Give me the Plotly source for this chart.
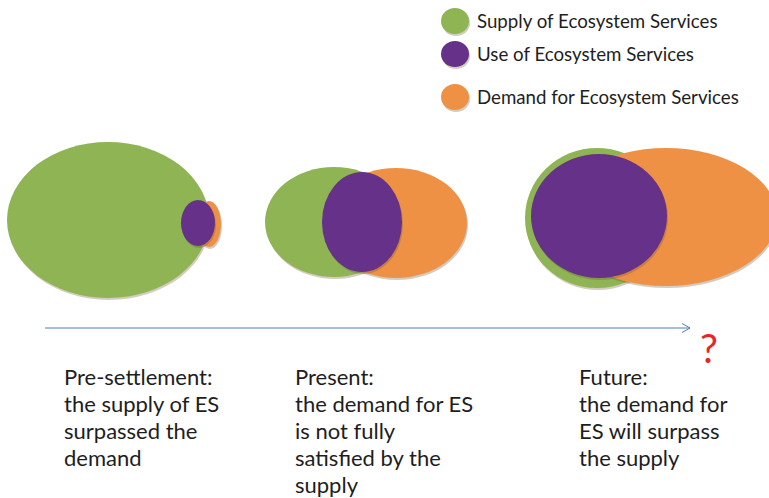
import plotly.graph_objects as go

# ---- data ----
legend_labels = ["Supply of Ecosystem Services", "Use of Ecosystem Services", "Demand for Ecosystem Services"]
series = ["supply", "use", "demand"]
colors = {"supply": "#8FB453", "use": "#663189", "demand": "#EF9145"}

# ellipse geometry per stage: (cx, cy, rx, ry)
supply_ell = [(108, 220, 101, 78), (334, 222, 69, 55), (597, 218, 72, 70)]
demand_ell = [(209, 224, 12, 23), (396, 223, 71, 55), (666, 217, 111, 69)]
use_ell = [(198, 223, 17, 23), (362, 222, 40, 50), (599, 216, 68, 62)]

stage_text = [
    ["Pre-settlement:", "the supply of ES", "surpassed the", "demand"],
    ["Present:", "the demand for ES", "is not fully", "satisfied by the", "supply"],
    ["Future:", "the demand for", "ES will surpass", "the supply"],
]
stage_text_x = [62, 293, 577]
text_top_y = 376
line_gap = 27

legend_y = [21, 54, 97]
legend_x = 455

FONT = "Lato, Liberation Sans, sans-serif"

fig = go.Figure()
shapes = []

def ellipse(cx, cy, rx, ry, color, shadow=True):
    out = []
    if shadow:
        out.append(dict(type="circle", xref="x", yref="y",
                        x0=cx - rx + 1, x1=cx + rx + 1, y0=cy - ry + 2, y1=cy + ry + 2,
                        fillcolor="rgba(110,85,50,0.3)", line=dict(width=0), layer="above"))
    out.append(dict(type="circle", xref="x", yref="y",
                    x0=cx - rx, x1=cx + rx, y0=cy - ry, y1=cy + ry,
                    fillcolor=color, line=dict(width=0), layer="above"))
    return out

for i in range(3):
    for name, ell in (("supply", supply_ell), ("demand", demand_ell), ("use", use_ell)):
        cx, cy, rx, ry = ell[i]
        shapes += ellipse(cx, cy, rx, ry, colors[name])

# legend markers
for i, s in enumerate(series):
    shapes += ellipse(legend_x, legend_y[i], 14, 13, colors[s])

annotations = []
for i, lab in enumerate(legend_labels):
    annotations.append(dict(x=475, y=legend_y[i], xref="x", yref="y", text=lab,
                            showarrow=False, xanchor="left", yanchor="middle",
                            font=dict(family=FONT, size=18.7, color="#1e1e1e")))

for j, lines in enumerate(stage_text):
    for k, ln in enumerate(lines):
        annotations.append(dict(x=stage_text_x[j], y=text_top_y + k * line_gap, xref="x", yref="y",
                                text=ln, showarrow=False, xanchor="left", yanchor="middle",
                                font=dict(family=FONT, size=22, color="#1e1e1e")))

annotations.append(dict(x=709, y=348, xref="x", yref="y", text="?", showarrow=False,
                        xanchor="center", yanchor="middle",
                        font=dict(family=FONT, size=40, color="#E8262A")))

# timeline arrow
arrow_col = "#4A7EC0"
fig.add_trace(go.Scatter(x=[45, 690], y=[328, 328], mode="lines",
                         line=dict(color=arrow_col, width=1), hoverinfo="skip", showlegend=False))
fig.add_trace(go.Scatter(x=[682, 690, 682], y=[323.5, 328, 332.5], mode="lines",
                         line=dict(color=arrow_col, width=1), hoverinfo="skip", showlegend=False))

fig.update_layout(
    width=769, height=498,
    margin=dict(l=0, r=0, t=0, b=0),
    paper_bgcolor="white", plot_bgcolor="white",
    shapes=shapes, annotations=annotations,
    xaxis=dict(range=[0, 769], visible=False, fixedrange=True),
    yaxis=dict(range=[498, 0], visible=False, fixedrange=True),
    showlegend=False,
)

fig.write_html("out.html", config={"displayModeBar": False},
               post_script="document.body.style.margin='0';document.body.style.overflow='hidden';")
